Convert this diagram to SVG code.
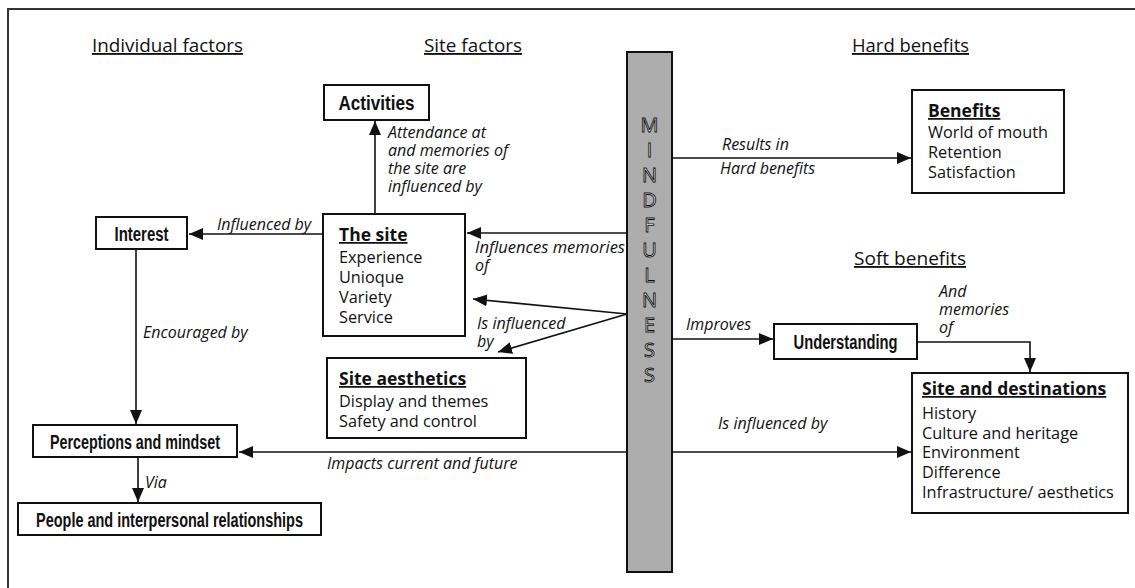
<svg xmlns="http://www.w3.org/2000/svg" width="1135" height="588" viewBox="0 0 1135 588">
<style>
.box{fill:#fff;stroke:#111;stroke-width:2}
.hdr{font-family:"Open Sans","Liberation Sans",sans-serif;font-size:18.5px;fill:#111;text-decoration:underline}
.bc{font-family:"Liberation Sans",sans-serif;font-weight:bold;font-size:19.5px;fill:#111}
.ttl{font-family:"Open Sans","Liberation Sans",sans-serif;font-weight:bold;font-size:17.5px;fill:#111;text-decoration:underline}
.body{font-family:"Open Sans","Liberation Sans",sans-serif;font-size:16.3px;fill:#111}
.lbl{font-family:"Open Sans","Liberation Sans",sans-serif;font-style:italic;font-size:16px;fill:#111}
.conn path{fill:none;stroke:#111;stroke-width:1.6}
.mind{font-family:"Open Sans","Liberation Sans",sans-serif;font-size:20px;fill:#fff;stroke:#111;stroke-width:0.9;text-anchor:middle}
</style>
<defs>
<marker id="ah" viewBox="0 0 14 12" refX="14" refY="6" markerWidth="14" markerHeight="12" markerUnits="userSpaceOnUse" orient="auto">
<path d="M0,0 L14,6 L0,12 z" fill="#111"/>
</marker>
</defs>
<rect width="1135" height="588" fill="#fff"/>
<path d="M8,588 L8,9 L1135,9" fill="none" stroke="#333" stroke-width="2"/>

<g id="headers">
<text class="hdr" x="92" y="52" textLength="151" lengthAdjust="spacingAndGlyphs">Individual factors</text>
<text class="hdr" x="424" y="52" textLength="98" lengthAdjust="spacingAndGlyphs">Site factors</text>
<text class="hdr" x="852" y="52" textLength="117" lengthAdjust="spacingAndGlyphs">Hard benefits</text>
<text class="hdr" x="854" y="265" textLength="112" lengthAdjust="spacingAndGlyphs">Soft benefits</text>
</g>

<g id="mindfulness">
<rect x="627" y="52" width="45" height="520" fill="#adadad" stroke="#111" stroke-width="2"/>
<text class="mind" x="649.5" y="132">M</text>
<text class="mind" x="649.5" y="157">I</text>
<text class="mind" x="649.5" y="182">N</text>
<text class="mind" x="649.5" y="207">D</text>
<text class="mind" x="649.5" y="232">F</text>
<text class="mind" x="649.5" y="257">U</text>
<text class="mind" x="649.5" y="282">L</text>
<text class="mind" x="649.5" y="307">N</text>
<text class="mind" x="649.5" y="332">E</text>
<text class="mind" x="649.5" y="357">S</text>
<text class="mind" x="649.5" y="382">S</text>
</g>

<g id="activities">
<rect class="box" x="324" y="85" width="105" height="35"/>
<text class="bc" x="376.5" y="109.5" text-anchor="middle" textLength="76" lengthAdjust="spacingAndGlyphs">Activities</text>
</g>

<g id="interest">
<rect class="box" x="96" y="217" width="91" height="32"/>
<text class="bc" x="141.5" y="240.5" text-anchor="middle" textLength="54" lengthAdjust="spacingAndGlyphs">Interest</text>
</g>

<g id="the-site">
<rect class="box" x="323" y="214" width="142" height="122"/>
<text class="ttl" x="339" y="241">The site</text>
<text class="body" x="339" y="263">Experience</text>
<text class="body" x="339" y="283">Unioque</text>
<text class="body" x="339" y="303">Variety</text>
<text class="body" x="339" y="323">Service</text>
</g>

<g id="site-aesthetics">
<rect class="box" x="327" y="358" width="199" height="80"/>
<text class="ttl" x="339" y="385">Site aesthetics</text>
<text class="body" x="339" y="407">Display and themes</text>
<text class="body" x="339" y="427">Safety and control</text>
</g>

<g id="benefits">
<rect class="box" x="912" y="90" width="152" height="103"/>
<text class="ttl" x="928" y="117">Benefits</text>
<text class="body" x="928" y="138">World of mouth</text>
<text class="body" x="928" y="158">Retention</text>
<text class="body" x="928" y="178">Satisfaction</text>
</g>

<g id="understanding">
<rect class="box" x="774" y="324" width="143" height="35"/>
<text class="bc" x="845.5" y="348.5" text-anchor="middle" textLength="104" lengthAdjust="spacingAndGlyphs">Understanding</text>
</g>

<g id="site-destinations">
<rect class="box" x="912" y="373" width="216" height="140"/>
<text class="ttl" x="922" y="395">Site and destinations</text>
<text class="body" x="922" y="419">History</text>
<text class="body" x="922" y="439">Culture and heritage</text>
<text class="body" x="922" y="458">Environment</text>
<text class="body" x="922" y="478">Difference</text>
<text class="body" x="922" y="498">Infrastructure/ aesthetics</text>
</g>

<g id="perceptions">
<rect class="box" x="33" y="425" width="204" height="32"/>
<text class="bc" x="135" y="448.5" text-anchor="middle" textLength="170" lengthAdjust="spacingAndGlyphs">Perceptions and mindset</text>
</g>

<g id="people">
<rect class="box" x="18" y="503" width="303" height="32"/>
<text class="bc" x="169.5" y="526.5" text-anchor="middle" textLength="267" lengthAdjust="spacingAndGlyphs">People and interpersonal relationships</text>
</g>

<g id="connectors" class="conn">
<path d="M375,214 L375,121" marker-end="url(#ah)"/>
<path d="M323,234 L189,234" marker-end="url(#ah)"/>
<path d="M627,233 L467,233" marker-end="url(#ah)"/>
<path d="M627,314 L473,299" marker-end="url(#ah)"/>
<path d="M627,314 L498,352" marker-end="url(#ah)"/>
<path d="M672,158 L911,158" marker-end="url(#ah)"/>
<path d="M672,339 L773,339" marker-end="url(#ah)"/>
<path d="M917,342 L1030,342 L1030,372" marker-end="url(#ah)"/>
<path d="M672,452 L911,452" marker-end="url(#ah)"/>
<path d="M627,452 L239,452" marker-end="url(#ah)"/>
<path d="M136,249 L136,424" marker-end="url(#ah)"/>
<path d="M138,457 L138,502" marker-end="url(#ah)"/>
</g>

<g id="labels">
<text class="lbl" x="388" y="138">Attendance at</text>
<text class="lbl" x="388" y="156">and memories of</text>
<text class="lbl" x="388" y="174">the site are</text>
<text class="lbl" x="388" y="192">influenced by</text>
<text class="lbl" x="217" y="230">Influenced by</text>
<text class="lbl" x="475" y="253" textLength="150" lengthAdjust="spacingAndGlyphs">Influences memories</text>
<text class="lbl" x="475" y="271">of</text>
<text class="lbl" x="477" y="329">Is influenced</text>
<text class="lbl" x="477" y="347">by</text>
<text class="lbl" x="722" y="150">Results in</text>
<text class="lbl" x="720" y="174">Hard benefits</text>
<text class="lbl" x="686" y="330">Improves</text>
<text class="lbl" x="939" y="297">And</text>
<text class="lbl" x="939" y="315">memories</text>
<text class="lbl" x="939" y="333">of</text>
<text class="lbl" x="718" y="429">Is influenced by</text>
<text class="lbl" x="327" y="469">Impacts current and future</text>
<text class="lbl" x="143" y="338">Encouraged by</text>
<text class="lbl" x="145" y="488">Via</text>
</g>
</svg>
